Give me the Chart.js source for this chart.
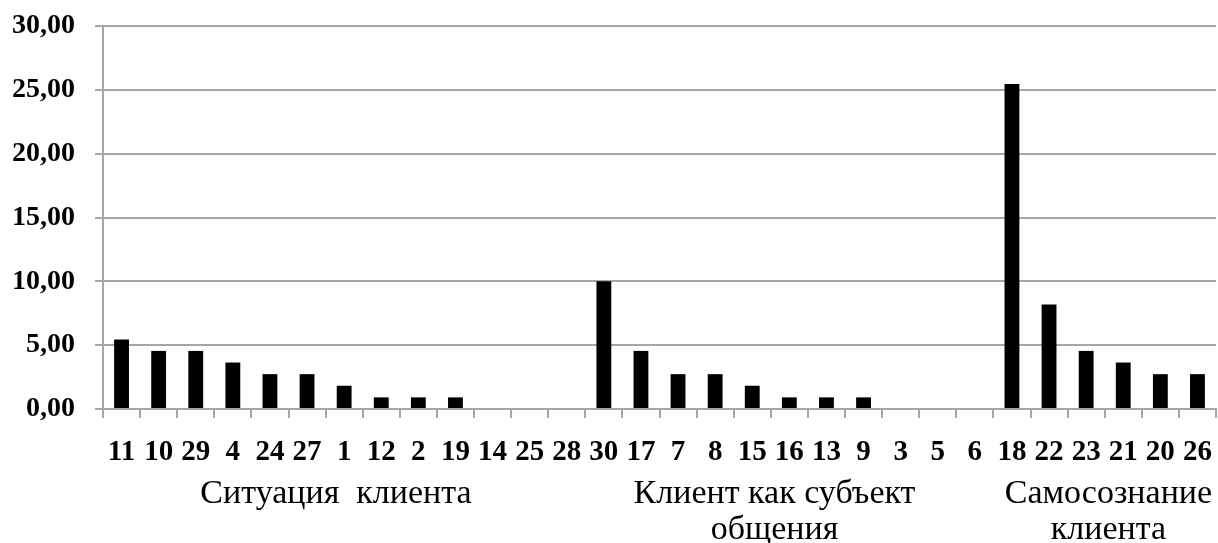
<!DOCTYPE html>
<html><head><meta charset="utf-8">
<script src="https://cdn.jsdelivr.net/npm/chart.js@4/dist/chart.umd.min.js"></script>
<style>html,body{margin:0;padding:0;background:#fff}#wrap{width:1218px;height:543px}</style>
</head><body><div id="wrap"><canvas id="c" width="1218" height="543"></canvas></div>
<script>
const categories = ["11","10","29","4","24","27","1","12","2","19","14","25","28","30","17","7","8","15","16","13","9","3","5","6","18","22","23","21","20","26"];
const values = [5.45,4.55,4.55,3.64,2.73,2.73,1.82,0.91,0.91,0.91,0,0,0,10.0,4.55,2.73,2.73,1.82,0.91,0.91,0.91,0,0,0,25.45,8.18,4.55,3.64,2.73,2.73];
const groupLabels = [["Ситуация  клиента"],["Клиент как субъект","общения"],["Самосознание","клиента"]];
const groupAnchors = [5.78, 17.6, 26.6];
const yTicks = [0,5,10,15,20,25,30];

const groupPlugin = {
  id:'groups',
  afterDraw(chart){
    const ctx = chart.ctx, x = chart.scales.x;
    ctx.save();
    ctx.fillStyle = '#000';
    ctx.font = '34px "Liberation Serif", "Times New Roman", serif';
    ctx.textAlign = 'center';
    ctx.textBaseline = 'middle';
    groupLabels.forEach((lines,i)=>{
      const px = x.getPixelForValue(groupAnchors[i]);
      lines.forEach((t,j)=>ctx.fillText(t, px, 494 + j*36));
    });
    ctx.restore();
  }
};

new Chart(document.getElementById('c'), {
  type:'bar',
  data:{labels:categories, datasets:[{data:values, backgroundColor:'#000', borderWidth:0, barPercentage:0.4, categoryPercentage:1}]},
  options:{
    responsive:false, animation:false, devicePixelRatio:1,
    layout:{padding:{top:26,right:2,left:0,bottom:0}},
    plugins:{legend:{display:false}, tooltip:{enabled:false}},
    scales:{
      x:{
        afterFit(s){ s.height = 134; s.paddingLeft = 0; s.paddingRight = 0; },
        grid:{drawOnChartArea:false, drawTicks:true, tickLength:9, color:'#a6a6a6', lineWidth:2, offset:true},
        border:{color:'#a6a6a6', width:2},
        ticks:{color:'#000', maxRotation:0, autoSkip:false, padding:17, font:{family:'"Liberation Serif", serif', weight:'bold', size:29}}
      },
      y:{
        min:0, max:30,
        afterFit(s){ s.width = 103; s.paddingTop = 0; s.paddingBottom = 0; },
        afterBuildTicks(s){ s.ticks = yTicks.map(v=>({value:v})); },
        grid:{color:'#a6a6a6', lineWidth:2, tickLength:8},
        border:{color:'#a6a6a6', width:2},
        ticks:{color:'#000', padding:20, font:{family:'"Liberation Serif", serif', weight:'bold', size:28},
          callback:v=>v.toFixed(2).replace('.',',')}
      }
    }
  },
  plugins:[groupPlugin]
});
</script></body></html>
